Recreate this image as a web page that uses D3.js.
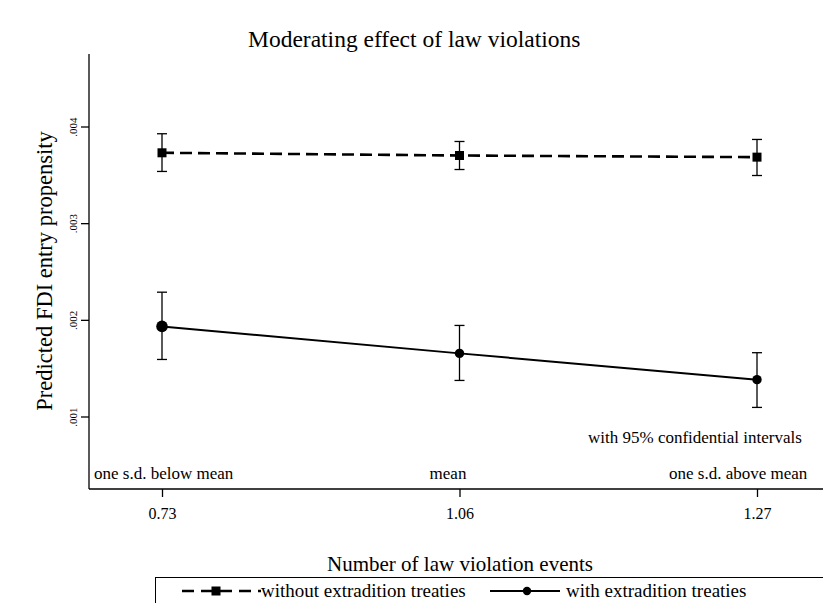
<!DOCTYPE html>
<html>
<head>
<meta charset="utf-8">
<script src="https://cdn.jsdelivr.net/npm/d3@7"></script>
<style>
  html, body { margin: 0; padding: 0; background: #fff; }
  svg { display: block; }
  text { font-family: "Liberation Serif", "Times New Roman", serif; fill: #000; }
</style>
</head>
<body>
<svg id="chart" width="823" height="603"></svg>
<script>
// ---- data ----
const categories = ["0.73", "1.06", "1.27"];
const categoryNotes = ["one s.d. below mean", "mean", "one s.d. above mean"];
const withoutMean = [0.003728, 0.003700, 0.003683];
const withoutLow  = [0.003535, 0.003555, 0.003493];
const withoutHigh = [0.003925, 0.003845, 0.003866];
const withMean = [0.001932, 0.001653, 0.001381];
const withLow  = [0.001590, 0.001373, 0.001094];
const withHigh = [0.002286, 0.001942, 0.001660];
const yTicks = [0.001, 0.002, 0.003, 0.004];
const yTickLabels = [".001", ".002", ".003", ".004"];
const seriesNames = ["without extradition treaties", "with extradition treaties"];

// ---- layout ----
const svg = d3.select("#chart");
const axisX = 89, axisY = 489, axisTop = 54, axisRight = 823;

const x = d3.scalePoint().domain(categories).range([162, 757]);
const y = d3.scaleLinear().domain([0.00025, 0.00475]).range([axisY, axisTop]);

// title
svg.append("text").attr("x", 248).attr("y", 47).attr("text-anchor", "start")
  .style("font-size", "23.5px").text("Moderating effect of law violations");

// y axis
svg.append("line").attr("x1", axisX).attr("x2", axisX).attr("y1", axisTop).attr("y2", axisY)
  .attr("stroke", "#000").attr("stroke-width", 1.3);
const yAxis = svg.append("g").attr("transform", `translate(${axisX},0)`)
  .call(d3.axisLeft(y).tickValues(yTicks).tickSize(8).tickFormat((d, i) => yTickLabels[i]));
yAxis.select(".domain").remove();
yAxis.selectAll(".tick line").attr("stroke", "#000").attr("stroke-width", 1.3);
yAxis.selectAll(".tick text")
  .attr("x", 0).attr("y", 0).attr("dy", 0)
  .attr("text-anchor", "middle")
  .attr("transform", "translate(-12,0) rotate(-90)")
  .style("font-family", "Liberation Serif, serif").style("font-size", "11px").attr("fill", "#000");

// y axis title
svg.append("text").attr("transform", "translate(52,271) rotate(-90)")
  .attr("text-anchor", "middle").style("font-size", "22.5px").text("Predicted FDI entry propensity");

// x axis
svg.append("line").attr("x1", axisX).attr("x2", axisRight).attr("y1", axisY).attr("y2", axisY)
  .attr("stroke", "#000").attr("stroke-width", 1.3);
const xAxis = svg.append("g").attr("transform", `translate(0,${axisY})`)
  .call(d3.axisBottom(x).tickSize(8).tickSizeOuter(0));
xAxis.select(".domain").remove();
xAxis.selectAll(".tick line").attr("stroke", "#000").attr("stroke-width", 1.3);
xAxis.selectAll(".tick text").attr("y", 30).attr("dy", 0)
  .style("font-family", "Liberation Serif, serif").style("font-size", "16px").attr("fill", "#000");

svg.append("text").attr("x", 460).attr("y", 571).attr("text-anchor", "middle")
  .style("font-size", "21px").text("Number of law violation events");

// category notes
const anchors = ["start", "middle", "start"];
const noteX = [94, 448, 669];
categoryNotes.forEach((t, i) => {
  svg.append("text").attr("x", noteX[i]).attr("y", 479).attr("text-anchor", anchors[i])
    .style("font-size", "17px").text(t);
});
svg.append("text").attr("x", 588).attr("y", 443).attr("text-anchor", "start")
  .style("font-size", "17px").text("with 95% confidential intervals");

// ---- series ----
function drawSeries(mean, low, high, dashed, marker) {
  const g = svg.append("g");
  const line = d3.line().x((d, i) => x(categories[i])).y(d => y(d));
  g.append("path").datum(mean).attr("d", line).attr("fill", "none")
    .attr("stroke", "#000").attr("stroke-width", dashed ? 2.6 : 2)
    .attr("stroke-dasharray", dashed ? "12,6" : null);
  categories.forEach((c, i) => {
    const cx = x(c);
    g.append("line").attr("x1", cx).attr("x2", cx).attr("y1", y(low[i])).attr("y2", y(high[i]))
      .attr("stroke", "#000").attr("stroke-width", 1.3);
    [low[i], high[i]].forEach(v => {
      g.append("line").attr("x1", cx - 5).attr("x2", cx + 5).attr("y1", y(v)).attr("y2", y(v))
        .attr("stroke", "#000").attr("stroke-width", 1.3);
    });
    if (marker === "square") {
      g.append("rect").attr("x", cx - 4.5).attr("y", y(mean[i]) - 4.5).attr("width", 9).attr("height", 9).attr("fill", "#000");
    } else {
      g.append("circle").attr("cx", cx).attr("cy", y(mean[i])).attr("r", i === 0 ? 5.8 : 4.7).attr("fill", "#000");
    }
  });
}
drawSeries(withoutMean, withoutLow, withoutHigh, true, "square");
drawSeries(withMean, withLow, withHigh, false, "circle");

// ---- legend ----
const leg = svg.append("g");
leg.append("rect").attr("x", 155.5).attr("y", 577.5).attr("width", 680).attr("height", 40)
  .attr("fill", "none").attr("stroke", "#000").attr("stroke-width", 1);
leg.append("line").attr("x1", 182).attr("x2", 261).attr("y1", 591).attr("y2", 591)
  .attr("stroke", "#000").attr("stroke-width", 2.4).attr("stroke-dasharray", "12,7");
leg.append("rect").attr("x", 211.5).attr("y", 586.5).attr("width", 9).attr("height", 9).attr("fill", "#000");
leg.append("text").attr("x", 261).attr("y", 597).style("font-size", "19px").text(seriesNames[0]);
leg.append("line").attr("x1", 490).attr("x2", 560).attr("y1", 591).attr("y2", 591)
  .attr("stroke", "#000").attr("stroke-width", 2);
leg.append("circle").attr("cx", 527).attr("cy", 591).attr("r", 4.2).attr("fill", "#000");
leg.append("text").attr("x", 566).attr("y", 597).style("font-size", "19px").text(seriesNames[1]);
</script>
</body>
</html>
